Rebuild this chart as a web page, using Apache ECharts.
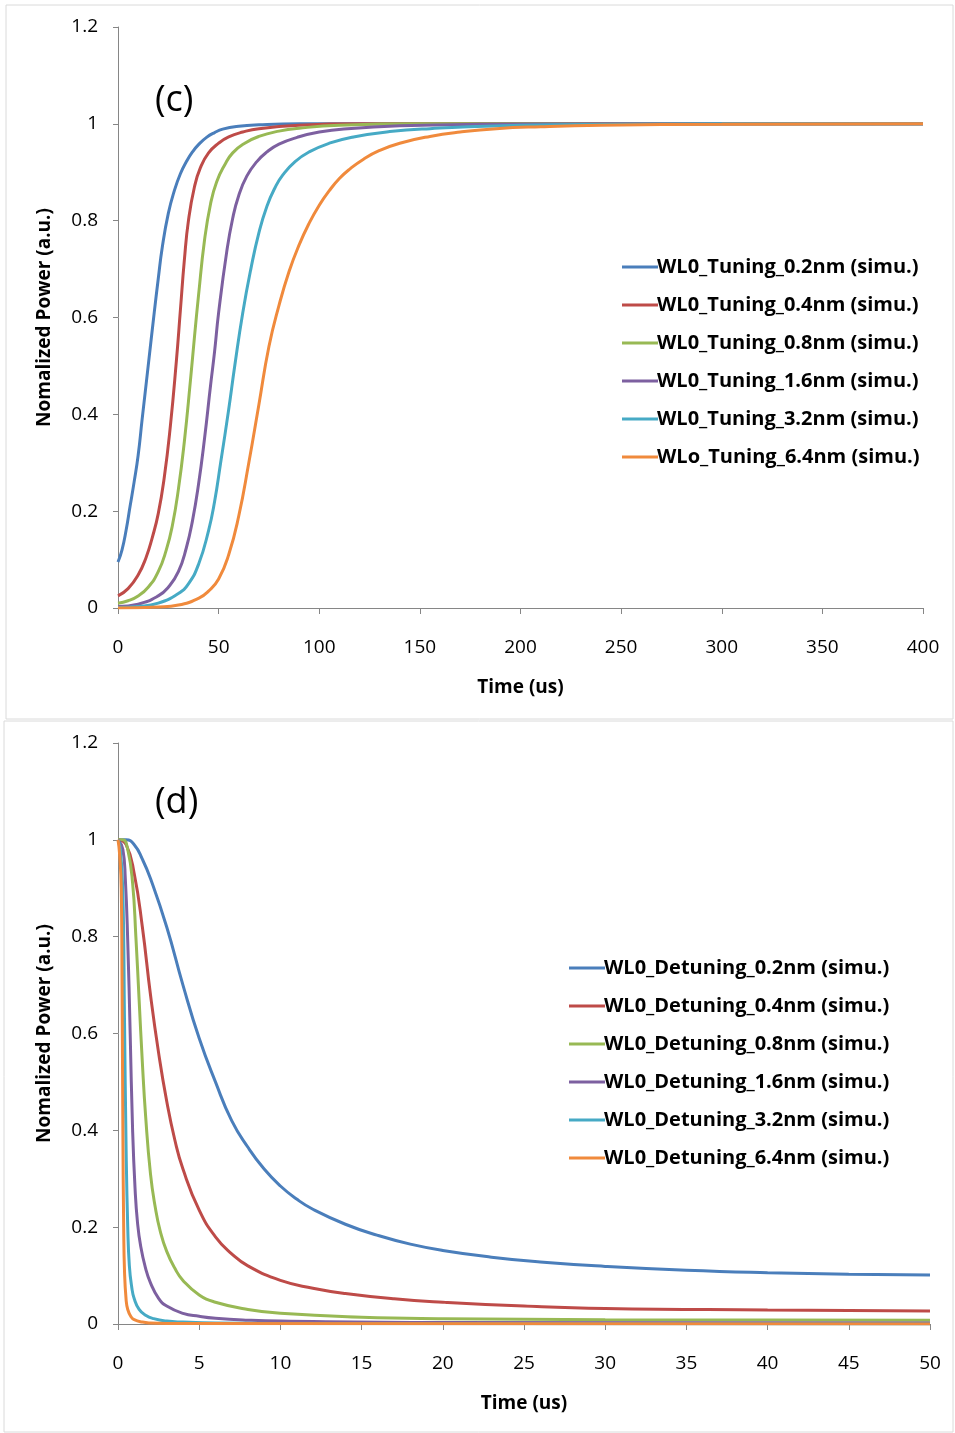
<!DOCTYPE html>
<html>
<head>
<meta charset="utf-8">
<script src="https://cdn.jsdelivr.net/npm/echarts@6/dist/echarts.min.js"></script>
<style>
html,body{margin:0;padding:0;background:#fff;}
#chart{width:955px;height:1433px;}
</style>
</head>
<body>
<div id="chart"></div>
<script>
// ---------- DATA ----------
const tuneNames = [
  'WL0_Tuning_0.2nm (simu.)',
  'WL0_Tuning_0.4nm (simu.)',
  'WL0_Tuning_0.8nm (simu.)',
  'WL0_Tuning_1.6nm (simu.)',
  'WL0_Tuning_3.2nm (simu.)',
  'WLo_Tuning_6.4nm (simu.)'
];
const detuneNames = [
  'WL0_Detuning_0.2nm (simu.)',
  'WL0_Detuning_0.4nm (simu.)',
  'WL0_Detuning_0.8nm (simu.)',
  'WL0_Detuning_1.6nm (simu.)',
  'WL0_Detuning_3.2nm (simu.)',
  'WL0_Detuning_6.4nm (simu.)'
];
const colors = ['#4A7EBB', '#BE4B48', '#98B954', '#7D60A0', '#46AAC5', '#F08A3C'];

// (c) tuning: [time us, normalized power]
const tune02 = [[0,0.095],[2,0.12],[4,0.16],[6,0.21],[8,0.26],[10,0.315],[12,0.39],[15,0.5],[18,0.61],[20,0.68],[22,0.745],[25,0.815],[28,0.862],[31,0.897],[34,0.922],[37,0.942],[40,0.957],[44,0.972],[48,0.982],[52,0.989],[60,0.995],[70,0.998],[90,1.0],[400,1.0]];
const tune04 = [[0,0.025],[5,0.04],[10,0.068],[14,0.105],[17,0.145],[20,0.195],[23,0.27],[26,0.375],[29,0.51],[31,0.615],[33,0.72],[35,0.8],[38,0.87],[41,0.91],[45,0.94],[50,0.96],[55,0.973],[62,0.983],[70,0.99],[90,0.997],[120,1.0],[400,1.0]];
const tune08 = [[0,0.01],[5,0.015],[10,0.025],[15,0.043],[20,0.075],[24,0.12],[27,0.17],[30,0.245],[33,0.345],[36,0.47],[38,0.56],[40,0.645],[43,0.76],[46,0.835],[49,0.88],[53,0.915],[57,0.94],[63,0.96],[70,0.974],[80,0.985],[90,0.991],[110,0.997],[150,1.0],[400,1.0]];
const tune16 = [[0,0.003],[10,0.008],[20,0.025],[25,0.043],[30,0.075],[34,0.125],[37,0.18],[40,0.255],[43,0.35],[46,0.46],[48,0.53],[50,0.61],[54,0.735],[57,0.805],[60,0.852],[64,0.892],[69,0.922],[74,0.942],[80,0.958],[89,0.972],[100,0.983],[114,0.99],[140,0.996],[180,0.999],[250,1.0],[400,1.0]];
const tune32 = [[0,0.001],[10,0.003],[20,0.01],[30,0.03],[35,0.05],[40,0.09],[45,0.16],[48,0.22],[51,0.3],[55,0.41],[58,0.5],[62,0.61],[66,0.7],[70,0.775],[74,0.83],[78,0.868],[82,0.895],[88,0.922],[95,0.942],[105,0.96],[117,0.973],[135,0.984],[155,0.99],[200,0.997],[250,0.999],[300,1.0],[400,1.0]];
const tune64 = [[0,0.0],[20,0.002],[30,0.006],[40,0.02],[45,0.035],[50,0.06],[55,0.11],[60,0.19],[65,0.3],[70,0.42],[75,0.54],[80,0.625],[85,0.695],[90,0.75],[95,0.795],[100,0.832],[105,0.862],[110,0.887],[115,0.906],[122,0.927],[130,0.945],[140,0.96],[155,0.974],[170,0.983],[188,0.99],[210,0.994],[240,0.997],[300,0.999],[400,1.0]];

// (d) detuning: [time us, normalized power]
const detune02 = [[0,1.0],[0.5,1.0],[1,0.99],[1.5,0.96],[2,0.92],[3,0.82],[4,0.70],[5,0.59],[6,0.5],[7,0.42],[8,0.365],[9,0.32],[10,0.285],[11,0.258],[12,0.237],[14,0.206],[16,0.183],[18,0.165],[20,0.152],[23,0.138],[26,0.128],[30,0.119],[35,0.111],[40,0.106],[45,0.103],[50,0.101]];
const detune04 = [[0,1.0],[0.5,0.99],[1,0.93],[1.5,0.82],[2,0.68],[2.5,0.56],[3,0.46],[3.5,0.38],[4,0.32],[5,0.235],[6,0.18],[7,0.145],[8,0.12],[10,0.09],[12,0.074],[14,0.063],[17,0.052],[20,0.045],[25,0.037],[30,0.032],[40,0.029],[50,0.027]];
const detune08 = [[0,1.0],[0.3,1.0],[0.6,0.98],[0.9,0.91],[1.1,0.8],[1.3,0.67],[1.5,0.54],[1.7,0.43],[2,0.31],[2.3,0.24],[2.6,0.192],[3,0.15],[3.5,0.115],[4,0.09],[5,0.06],[6,0.045],[8,0.03],[10,0.022],[15,0.014],[20,0.011],[30,0.009],[50,0.008]];
const detune16 = [[0,1.0],[0.3,0.98],[0.45,0.92],[0.6,0.79],[0.75,0.6],[0.9,0.4],[1.05,0.28],[1.2,0.21],[1.4,0.16],[1.7,0.115],[2,0.085],[2.5,0.053],[3,0.037],[4,0.022],[5,0.016],[6,0.012],[8,0.008],[10,0.006],[20,0.003],[50,0.002]];
const detune32 = [[0,1.0],[0.15,0.98],[0.3,0.89],[0.4,0.63],[0.5,0.36],[0.6,0.2],[0.7,0.12],[0.85,0.075],[1,0.052],[1.3,0.03],[1.7,0.018],[2.2,0.011],[3,0.006],[4,0.004],[6,0.002],[10,0.001],[50,0.0]];
const detune64 = [[0,1.0],[0.1,0.97],[0.2,0.9],[0.25,0.7],[0.3,0.4],[0.35,0.2],[0.4,0.11],[0.5,0.05],[0.6,0.03],[0.8,0.015],[1,0.009],[1.5,0.004],[2,0.002],[3,0.001],[50,0.0]];

const tuneData = [tune02, tune04, tune08, tune16, tune32, tune64];
const detuneData = [detune02, detune04, detune08, detune16, detune32, detune64];

// ---------- CHART ----------
const FONT = '"Open Sans", "Liberation Sans", sans-serif';
const axisGray = '#868686';

function xAxisCfg(gridIndex, max, interval) {
  return {
    type: 'value', gridIndex: gridIndex, min: 0, max: max, interval: interval,
    name: 'Time (us)', nameLocation: 'middle', nameGap: 70,
    nameTextStyle: {fontFamily: FONT, fontSize: 19, fontWeight: 'bold', color: '#000'},
    axisLine: {show: true, onZero: false, lineStyle: {color: axisGray, width: 1}},
    axisTick: {show: true, inside: false, length: 6, lineStyle: {color: axisGray}},
    axisLabel: {fontFamily: FONT, fontSize: 19, color: '#000', margin: 30},
    splitLine: {show: false}
  };
}
function yAxisCfg(gridIndex) {
  return {
    type: 'value', gridIndex: gridIndex, min: 0, max: 1.2, interval: 0.2,
    name: 'Nomalized Power (a.u.)', nameLocation: 'middle', nameGap: 64,
    nameTextStyle: {fontFamily: FONT, fontSize: 19, fontWeight: 'bold', color: '#000'},
    axisLine: {show: true, lineStyle: {color: axisGray, width: 1}},
    axisTick: {show: true, inside: false, length: 5, lineStyle: {color: axisGray}},
    axisLabel: {fontFamily: FONT, fontSize: 19, color: '#000', margin: 20,
      formatter: v => String(Math.round(v * 10) / 10)},
    splitLine: {show: false}
  };
}

const series = [];
tuneNames.forEach((n, i) => {
  series.push({
    name: n, type: 'line', xAxisIndex: 0, yAxisIndex: 0, data: tuneData[i],
    showSymbol: false, smooth: 0.5,
    lineStyle: {width: 3, color: colors[i]}, itemStyle: {color: colors[i]}, z: 2 + i
  });
});
detuneNames.forEach((n, i) => {
  series.push({
    name: n, type: 'line', xAxisIndex: 1, yAxisIndex: 1, data: detuneData[i],
    showSymbol: false, smooth: 0.5,
    lineStyle: {width: 3, color: colors[i]}, itemStyle: {color: colors[i]}, z: 2 + i
  });
});

function legendCfg(names, left, top) {
  return {
    data: names, orient: 'vertical', left: left, top: top,
    icon: 'rect', itemWidth: 36, itemHeight: 3, itemGap: 14,
    textStyle: {fontFamily: FONT, fontSize: 20, fontWeight: 'bold', color: '#000', lineHeight: 24,
      padding: [0, 0, 0, -6]},
    selectedMode: false
  };
}

const option = {
  backgroundColor: '#fff',
  animation: false,
  grid: [
    {left: 118, right: 32, top: 27, bottom: 825},
    {left: 118, right: 25, top: 743, bottom: 109}
  ],
  xAxis: [xAxisCfg(0, 400, 50), xAxisCfg(1, 50, 5)],
  yAxis: [yAxisCfg(0), yAxisCfg(1)],
  legend: [legendCfg(tuneNames, 617, 250), legendCfg(detuneNames, 564, 951)],
  series: series,
  graphic: [
    {type: 'rect', shape: {x: 6, y: 5, width: 947, height: 714}, style: {fill: 'none', stroke: '#dadada', lineWidth: 1}, z: -1},
    {type: 'rect', shape: {x: 4, y: 721, width: 949, height: 711}, style: {fill: 'none', stroke: '#dadada', lineWidth: 1}, z: -1},
    {type: 'text', left: 155, top: 83, style: {text: '(c)', font: '36px ' + FONT, fill: '#000'}},
    {type: 'text', left: 155, top: 785, style: {text: '(d)', font: '36px ' + FONT, fill: '#000'}}
  ]
};

const chart = echarts.init(document.getElementById('chart'), null, {renderer: 'canvas'});
chart.setOption(option);
</script>
</body>
</html>
